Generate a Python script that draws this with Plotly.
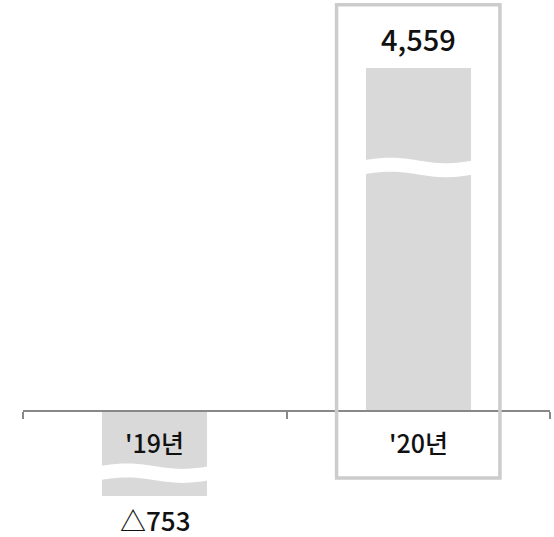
import numpy as np
import plotly.graph_objects as go

# ---- data ----
categories = ["'19년", "'20년"]
values = [-753, 4559]
value_labels = ["△753", "4,559"]
# amount removed at the axis break for each bar (broken-bar display)
break_cut = [72, 1815]
break_frac = [0.73, 0.71]   # where the break sits along the displayed bar
highlight_index = 1

# ---- style ----
BAR = "#d9d9d9"
FONT = "Noto Sans CJK KR"
Y_RANGE = [-1008, 3288]
BAR_W = 0.4

xs = list(range(len(categories)))
disp = [v - np.sign(v) * c for v, c in zip(values, break_cut)]

fig = go.Figure()
fig.add_trace(go.Bar(x=xs, y=disp, width=BAR_W, marker=dict(color=BAR, line=dict(width=0)),
                     hoverinfo="skip", showlegend=False))

shapes = []
gap = 112
amp = 22
for x0, d, f in zip(xs, disp, break_frac):
    yc = d * f
    t = np.linspace(0, 1, 41)
    xx = x0 - BAR_W / 2 - 0.01 + t * (BAR_W + 0.02)
    wav = amp * np.sin(2 * np.pi * t)
    up = yc + gap / 2 + wav
    lo = yc - gap / 2 + wav
    pts = [f"{a:.4f},{b:.2f}" for a, b in zip(xx, up)]
    pts += [f"{a:.4f},{b:.2f}" for a, b in zip(xx[::-1], lo[::-1])]
    path = "M " + " L ".join(pts) + " Z"
    shapes.append(dict(type="path", path=path, xref="x", yref="y",
                       fillcolor="white", line=dict(width=0), layer="above"))

# highlight box
hx = highlight_index
shapes.append(dict(type="rect", xref="x", yref="y", x0=hx - 0.31, x1=hx + 0.31,
                   y0=-536, y1=3250, line=dict(color="#cccccc", width=3.5),
                   fillcolor="rgba(0,0,0,0)", layer="above"))

annotations = []
for x0, d, cat, lab, v in zip(xs, disp, categories, value_labels, values):
    annotations.append(dict(x=x0, y=0, text=cat, showarrow=False, xref="x", yref="y",
                            yshift=-31, font=dict(family=FONT, size=25, color="#111111", weight=500)))
    if v >= 0:
        annotations.append(dict(x=x0, y=d, text=lab, showarrow=False, xref="x", yref="y",
                                yshift=30, font=dict(family=FONT, size=29, color="#111111", weight=500)))
    else:
        annotations.append(dict(x=x0, y=d, text=lab, showarrow=False, xref="x", yref="y",
                                yshift=-23, borderpad=0,
                                font=dict(family=FONT, size=26, color="#111111", weight=500)))

pos = (0 - Y_RANGE[0]) / (Y_RANGE[1] - Y_RANGE[0])
fig.update_layout(
    width=554, height=537,
    margin=dict(l=23, r=4, t=0, b=0),
    paper_bgcolor="white", plot_bgcolor="white",
    shapes=shapes, annotations=annotations,
    xaxis=dict(range=[-0.5, len(categories) - 0.5], anchor="free", position=pos,
               showline=True, linecolor="#888888", linewidth=1.5,
               ticks="outside", ticklen=7, tickwidth=1.5, tickcolor="#888888",
               tickvals=[i - 0.5 for i in range(len(categories) + 1)],
               ticktext=[""] * (len(categories) + 1),
               showgrid=False, zeroline=False, fixedrange=True),
    yaxis=dict(range=Y_RANGE, visible=False, fixedrange=True),
    bargap=0,
)
fig.write_html("out.html", config={"displayModeBar": False},
               post_script="document.body.style.margin='0px';document.body.style.overflow='hidden';")
